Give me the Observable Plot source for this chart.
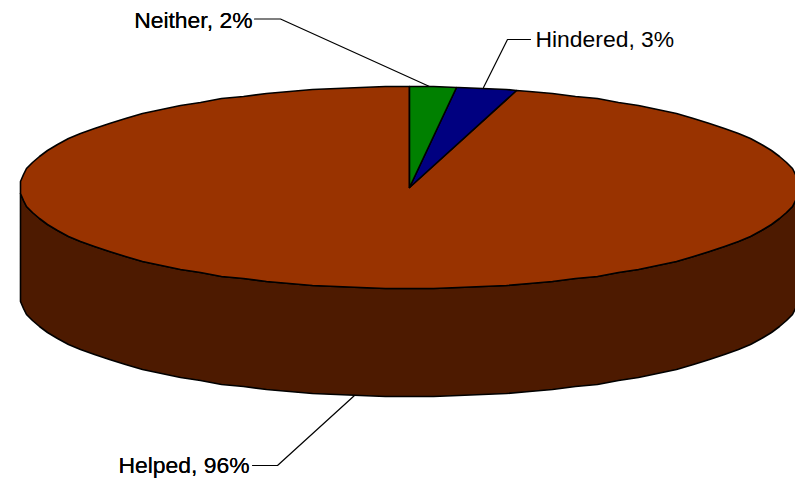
<!DOCTYPE html>
<html>
<head>
<meta charset="utf-8">
<style>html,body{margin:0;padding:0;background:#fff;overflow:hidden}</style>
<script src="https://cdn.jsdelivr.net/npm/d3@7"></script>
<script src="https://cdn.jsdelivr.net/npm/@observablehq/plot@0.6"></script>
</head>
<body>
<div id="chart"></div>
<script>
const categories = ["Neither", "Hindered", "Helped"];
const shares = [1.93, 2.5, 95.57];
const sliceColors = ["#008000", "#000080", "#993300"];
const wallColor = "#4d1a00";
const shownPercents = [2, 3, 96];

const labelX = [252, 535, 249];
const labelY = [20, 39, 465];
const labelAnchors = ["end", "start", "end"];
const leaderX = [[254, 280, 429], [530, 507, 483], [252, 277, 354]];
const leaderY = [[18.5, 18.5, 86], [39, 39, 87], [465, 465, 395]];

const centerX = 409, centerY = 187, radiusX = 389.5, radiusY = 101, depth = 108, stepDeg = 3.6;

const rim = (deg, dy = 0) => {
  const t = deg * Math.PI / 180;
  return {
    x: Math.round(centerX + radiusX * Math.sin(t)),
    y: Math.round(centerY + dy - radiusY * Math.cos(t))
  };
};
// Outline runs through a fixed grid of angles, which gives the faceted rim
const arc = (a, b, dy = 0) => {
  const lo = Math.min(a, b), hi = Math.max(a, b);
  const angles = [lo];
  for (let k = Math.floor(lo / stepDeg + 1e-9) + 1; k * stepDeg < hi - 1e-9; ++k) angles.push(k * stepDeg);
  angles.push(hi);
  if (a > b) angles.reverse();
  return angles.map(d => rim(d, dy));
};

let start = 0;
const sliceMarks = categories.map((name, i) => {
  const end = start + shares[i] * 3.6;
  const pts = [{x: centerX, y: centerY}, ...arc(start, end), {x: centerX, y: centerY}];
  start = end;
  return {i, pts};
});
// Largest slice first, so the two small ones sit above it
sliceMarks.sort((a, b) => shares[b.i] - shares[a.i]);

const wall = [...arc(93.6, 266.4), ...arc(266.4, 93.6, depth)];
wall.push(wall[0]);

const leaders = categories.flatMap((name, i) =>
  leaderX[i].map((x, j) => ({name, x, y: leaderY[i][j]})));
const labels = categories.map((name, i) => ({
  text: `${name}, ${shownPercents[i]}%`, x: labelX[i], y: labelY[i], anchor: labelAnchors[i]
}));

const chart = Plot.plot({
  width: 795,
  height: 478,
  margin: 0,
  x: {domain: [0, 795], range: [0, 795], axis: null},
  y: {domain: [0, 478], range: [0, 478], axis: null},
  style: {background: "#fff"},
  marks: [
    Plot.line(wall, {x: "x", y: "y", fill: wallColor, stroke: "#000", strokeWidth: 1.6}),
    ...sliceMarks.map(s => Plot.line(s.pts, {
      x: "x", y: "y", fill: sliceColors[s.i], stroke: "#000", strokeWidth: 1.6
    })),
    Plot.line(leaders, {x: "x", y: "y", z: "name", stroke: "#000", strokeWidth: 1.2}),
    ...labelAnchors.map(anchor => Plot.text(labels.filter(d => d.anchor === anchor), {
      x: "x", y: "y", text: "text", textAnchor: anchor,
      fontFamily: "Liberation Sans", fontSize: 22.9, fill: "#000"
    }))
  ]
});
document.getElementById("chart").appendChild(chart);
</script>
</body>
</html>
